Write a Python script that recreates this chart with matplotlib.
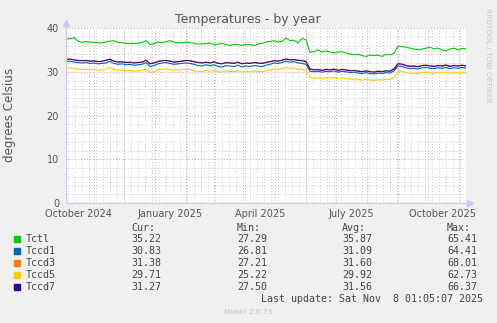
"""
Yearly temperature graph for the CPU sensors, drawn in the rrdtool / Munin look.
"""

from datetime import datetime, timedelta

import matplotlib.pyplot as plt
import matplotlib.dates as mdates
import numpy as np

# ---- data -------------------------------------------------------------
last_update = datetime(2025, 11, 8, 1, 5, 7)
span_days = 400
# one reading every 4 days, plus the current value at the right edge
sample_days = list(range(0, span_days, 4)) + [span_days]

tctl = [
    37.4, 37.6, 37.8, 37.0, 36.7, 36.9, 36.8, 36.7, 36.6, 36.6,
    36.8, 37.0, 37.1, 36.7, 36.6, 36.5, 36.4, 36.5, 36.5, 36.7,
    37.1, 36.2, 36.4, 36.8, 36.6, 36.9, 37.1, 36.8, 36.6, 36.6,
    36.8, 36.7, 36.5, 36.3, 36.4, 36.4, 36.6, 36.2, 36.3, 36.5,
    36.2, 36.0, 36.3, 36.2, 36.0, 36.3, 36.2, 36.0, 36.3, 36.5,
    36.8, 36.9, 37.1, 36.8, 36.9, 37.7, 37.1, 37.2, 36.6, 37.6,
    37.3, 34.4, 34.6, 35.0, 34.5, 34.8, 34.5, 34.3, 34.5, 34.6,
    34.3, 34.0, 33.9, 34.0, 33.7, 33.5, 33.8, 33.7, 33.8, 33.5,
    34.0, 33.9, 34.2, 35.8, 35.8, 35.6, 35.4, 35.2, 35.0, 35.2,
    35.4, 35.6, 35.2, 35.4, 35.0, 34.8, 35.2, 35.4, 35.0, 35.3,
    35.22,
]
tccd1 = [
    32.3, 32.4, 32.2, 32.1, 32.0, 32.1, 31.9, 32.0, 31.8, 31.9,
    32.0, 32.4, 31.9, 31.7, 31.8, 31.6, 31.7, 31.5, 31.6, 31.7,
    32.1, 31.2, 31.4, 31.8, 32.0, 32.1, 31.9, 31.7, 31.8, 31.9,
    32.0, 31.9, 31.7, 31.4, 31.3, 31.6, 31.4, 31.6, 31.2, 31.1,
    31.4, 31.3, 31.2, 31.5, 31.1, 31.3, 31.2, 31.4, 31.3, 31.2,
    31.5, 31.7, 32.0, 31.9, 32.1, 32.4, 32.2, 32.3, 32.0, 31.9,
    31.7, 30.1, 30.0, 30.1, 29.9, 30.1, 30.0, 30.2, 29.9, 30.1,
    30.0, 29.8, 29.9, 29.7, 29.6, 29.8, 29.6, 29.5, 29.7, 29.6,
    29.8, 29.7, 30.2, 31.3, 31.2, 30.9, 30.7, 30.8, 30.6, 30.9,
    31.0, 30.8, 30.7, 30.9, 30.8, 31.0, 30.7, 30.9, 30.8, 31.0,
    30.83,
]
tccd3 = [
    32.9, 32.8, 32.8, 32.5, 32.6, 32.5, 32.5, 32.4, 32.4, 32.3,
    32.7, 32.8, 32.5, 32.3, 32.2, 32.2, 32.1, 32.1, 32.2, 32.1,
    32.7, 31.9, 32.1, 32.4, 32.6, 32.5, 32.5, 32.3, 32.2, 32.5,
    32.5, 32.6, 32.2, 32.2, 32.1, 32.1, 32.1, 32.2, 32.0, 31.9,
    32.0, 32.1, 32.0, 32.1, 31.9, 31.9, 32.0, 32.1, 31.9, 32.0,
    32.2, 32.3, 32.6, 32.5, 32.7, 32.9, 32.8, 32.7, 32.7, 32.6,
    32.4, 30.7, 30.5, 30.5, 30.4, 30.6, 30.5, 30.6, 30.4, 30.6,
    30.5, 30.3, 30.3, 30.2, 30.1, 30.2, 30.1, 30.0, 30.2, 30.1,
    30.2, 30.2, 30.8, 31.9, 31.8, 31.5, 31.3, 31.4, 31.2, 31.5,
    31.5, 31.4, 31.3, 31.5, 31.4, 31.6, 31.3, 31.5, 31.4, 31.5,
    31.38,
]
tccd5 = [
    30.8, 30.9, 30.7, 30.6, 30.5, 30.6, 30.4, 30.5, 30.3, 30.4,
    30.6, 31.0, 30.5, 30.3, 30.4, 30.2, 30.3, 30.1, 30.2, 30.3,
    30.7, 29.8, 30.0, 30.4, 30.6, 30.7, 30.5, 30.3, 30.4, 30.5,
    30.6, 30.5, 30.3, 30.1, 30.0, 30.3, 30.1, 30.3, 30.0, 29.9,
    30.2, 30.1, 30.0, 30.3, 29.9, 30.1, 30.0, 30.2, 30.1, 30.0,
    30.2, 30.4, 30.6, 30.5, 30.7, 31.0, 30.8, 30.9, 30.6, 30.5,
    30.3, 28.7, 28.5, 28.6, 28.4, 28.6, 28.5, 28.7, 28.4, 28.6,
    28.5, 28.3, 28.4, 28.2, 28.1, 28.3, 28.1, 28.0, 28.2, 28.1,
    28.3, 28.2, 28.7, 30.2, 30.1, 29.8, 29.6, 29.7, 29.5, 29.8,
    29.9, 29.7, 29.6, 29.8, 29.7, 29.9, 29.6, 29.8, 29.7, 29.8,
    29.71,
]
tccd7 = [
    32.8, 32.9, 32.7, 32.6, 32.5, 32.6, 32.4, 32.5, 32.3, 32.4,
    32.6, 32.9, 32.4, 32.2, 32.3, 32.1, 32.2, 32.0, 32.1, 32.2,
    32.6, 31.8, 32.0, 32.3, 32.5, 32.6, 32.4, 32.2, 32.3, 32.4,
    32.6, 32.5, 32.3, 32.1, 32.0, 32.2, 32.0, 32.3, 31.9, 31.8,
    32.1, 32.0, 31.9, 32.2, 31.8, 32.0, 31.9, 32.1, 32.0, 31.9,
    32.1, 32.3, 32.5, 32.4, 32.6, 32.9, 32.7, 32.8, 32.6, 32.5,
    32.3, 30.6, 30.4, 30.5, 30.3, 30.5, 30.4, 30.6, 30.3, 30.5,
    30.4, 30.2, 30.3, 30.1, 30.0, 30.2, 30.0, 29.9, 30.1, 30.0,
    30.2, 30.1, 30.6, 31.8, 31.7, 31.4, 31.2, 31.3, 31.1, 31.4,
    31.5, 31.3, 31.2, 31.4, 31.3, 31.5, 31.2, 31.4, 31.3, 31.5,
    31.27,
]

series_names = ["Tctl", "Tccd1", "Tccd3", "Tccd5", "Tccd7"]
series_values = [tctl, tccd1, tccd3, tccd5, tccd7]
series_colors = ["#00CC00", "#0066B3", "#FF8000", "#FFCC00", "#330099"]

stat_cur = ["35.22", "30.83", "31.38", "29.71", "31.27"]
stat_min = ["27.29", "26.81", "27.21", "25.22", "27.50"]
stat_avg = ["35.87", "31.09", "31.60", "29.92", "31.56"]
stat_max = ["65.41", "64.41", "68.01", "62.73", "66.37"]

x_labels = ["October 2024", "January 2025", "April 2025", "July 2025", "October 2025"]
x_label_dates = [datetime(2024, 10, 16), datetime(2025, 1, 16), datetime(2025, 4, 16),
                 datetime(2025, 7, 16), datetime(2025, 10, 16)]

# ---- figure -----------------------------------------------------------
W, H = 497, 323
BG = "#F0F0F0"
TXT = "#555555"
MAJOR = "#E69C9C"
MINOR = "#C8C8C8"
AXIS = "#C5CAF2"


def fx(px):
    return px / W


def fy(py):
    return 1 - py / H


fig = plt.figure(figsize=(W / 100, H / 100), dpi=100, facecolor=BG)
ax = fig.add_axes([fx(66), fy(203), 400 / W, 175 / H], facecolor="white")

t0 = last_update - timedelta(days=span_days)
t = [t0 + timedelta(days=d) for d in sample_days]
ax.set_xlim(t0, last_update)
ax.set_ylim(0, 40)
for s in ax.spines.values():
    s.set_visible(False)

# grid: weekly (minor) and monthly (major) verticals, 2 / 10 degree horizontals
week = datetime(2024, 10, 6)
while week < last_update:
    if week > t0:
        ax.axvline(week, color=MINOR, lw=0.7, ls=(0, (1, 2)), zorder=1)
    week += timedelta(days=7)
for y in range(2, 40, 2):
    if y % 10:
        ax.axhline(y, color=MINOR, lw=0.7, ls=(0, (1, 2)), zorder=1)
for m in range(13):
    first = datetime(2024 + (10 + m) // 12, (10 + m) % 12 + 1, 1)
    if t0 < first < last_update:
        ax.axvline(first, color=MAJOR, lw=0.7, ls=(0, (1, 2)), zorder=1.5)
for y in (10, 20, 30, 40):
    ax.axhline(y, color=MAJOR, lw=0.7, ls=(0, (1, 2)), zorder=1.5, clip_on=False)

for vals, col in zip(series_values, series_colors):
    ax.plot(t, vals, color=col, lw=0.8, zorder=3)

# axes with arrow heads
ax.plot([0, 0], [0, 1.03], transform=ax.transAxes, color=AXIS, lw=0.9, clip_on=False, zorder=4)
ax.plot([0, 1.01], [0, 0], transform=ax.transAxes, color=AXIS, lw=0.9, clip_on=False, zorder=4)
ax.plot([0], [1.03], marker="^", ms=4, color=AXIS, transform=ax.transAxes, clip_on=False, zorder=4)
ax.plot([1.01], [0], marker=">", ms=4, color=AXIS, transform=ax.transAxes, clip_on=False, zorder=4)

ax.set_yticks([0, 10, 20, 30, 40])
ax.set_xticks([mdates.date2num(d) for d in x_label_dates])
ax.set_xticklabels(x_labels)
ax.tick_params(length=0, labelsize=7, labelcolor=TXT, pad=4)
ax.tick_params(axis="y", pad=5)

# titles and side texts
fig.text(fx(248), fy(19.5), "Temperatures - by year", ha="center", va="center",
         fontsize=9, color=TXT)
fig.text(fx(10), fy(115), "degrees Celsius", rotation=90, ha="center", va="center",
         fontsize=8.6, color=TXT)
fig.text(fx(488), fy(55), "RRDTOOL / TOBI OETIKER", rotation=270, ha="center",
         va="center", fontsize=5.3, color="#C4C4C4")
fig.text(fx(248), fy(312), "Munin 2.0.73", ha="center", va="center", fontsize=5.3,
         color="#C4C4C4")

# legend table
mono = dict(family="DejaVu Sans Mono", fontsize=7.2, color="#444444", va="center")
cols = [131, 237, 342, 447]
for x, head in zip(cols, ["Cur:", "Min:", "Avg:", "Max:"]):
    fig.text(fx(x), fy(228), head, **mono)
rows = [239, 251, 263, 275, 287]
for i, name in enumerate(series_names):
    y = rows[i]
    fig.patches.append(plt.Rectangle((fx(14), fy(y + 3)), 6 / W, 6 / H,
                                     transform=fig.transFigure, color=series_colors[i]))
    fig.text(fx(26), fy(y), name, **mono)
    for x, v in zip(cols, [stat_cur[i], stat_min[i], stat_avg[i], stat_max[i]]):
        fig.text(fx(x), fy(y), v, **mono)
fig.text(fx(483), fy(299), "Last update: Sat Nov  8 01:05:07 2025", ha="right", **mono)

fig.savefig("out.png", dpi=100, facecolor=BG)
